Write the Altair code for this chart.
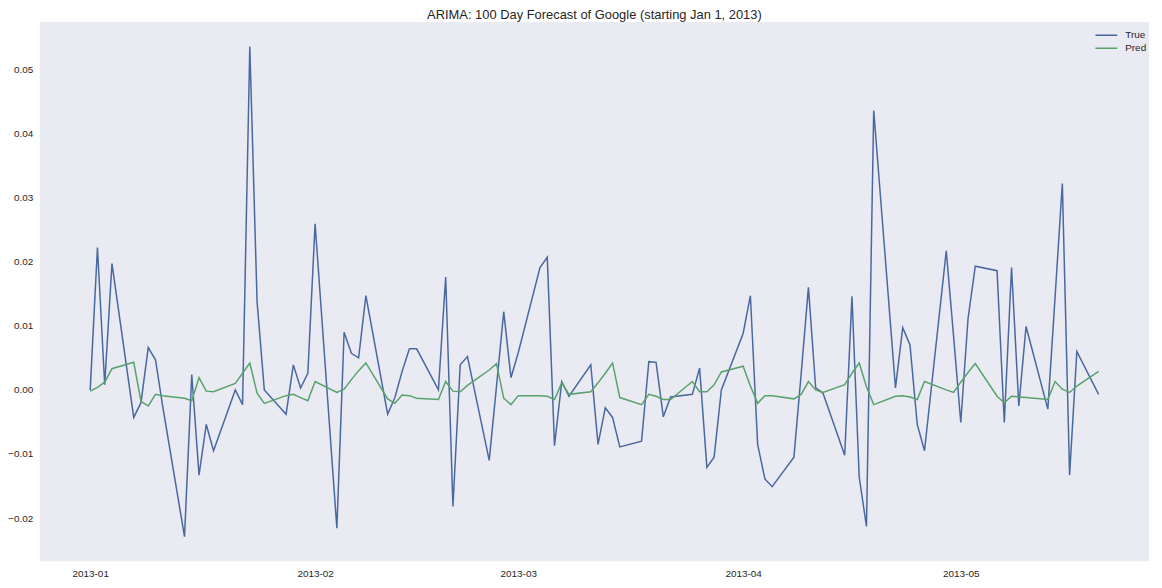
import altair as alt
import pandas as pd

# 100 weekdays starting Jan 1, 2013
dates = pd.bdate_range("2013-01-01", periods=100).strftime("%Y-%m-%d").tolist()

true_vals = [
    0.0000, 0.0222, 0.0008, 0.0197,
    -0.0043, -0.0020, 0.0066, 0.0047, -0.0026,
    -0.0229, 0.0024, -0.0133, -0.0054, -0.0095,
    0.0000, -0.0023, 0.0536, 0.0138, 0.0000,
    -0.0038, 0.0039, 0.0003, 0.0026, 0.0259,
    -0.0216, 0.0090, 0.0057, 0.0050, 0.0147,
    -0.0038, -0.0012, 0.0029, 0.0064, 0.0064,
    0.0000, 0.0176, -0.0182, 0.0039, 0.0052,
    -0.0110, 0.0005, 0.0122, 0.0019, 0.0058,
    0.0191, 0.0207, -0.0087, 0.0013, -0.0010,
    0.0039, -0.0085, -0.0028, -0.0043, -0.0089,
    -0.0080, 0.0044, 0.0043, -0.0042, -0.0011,
    -0.0007, 0.0034, -0.0121, -0.0105, 0.0000,
    0.0088, 0.0147, -0.0085, -0.0139, -0.0151,
    -0.0105, 0.0025, 0.0160, 0.0003, -0.0005,
    -0.0102, 0.0146, -0.0136, -0.0213, 0.0436,
    0.0003, 0.0097, 0.0070, -0.0054, -0.0095,
    0.0217, 0.0085, -0.0051, 0.0111, 0.0193,
    0.0186, -0.0051, 0.0191, -0.0025, 0.0099,
    -0.0030, 0.0145, 0.0322, -0.0133, 0.0060,
    -0.0007,
]

pred_vals = [
    -0.0002, 0.0004, 0.0012, 0.0033,
    0.0043, -0.0018, -0.0025, -0.0007, -0.0009,
    -0.0013, -0.0017, 0.0019, -0.0002, -0.0003,
    0.0010, 0.0026, 0.0042, -0.0005, -0.0021,
    -0.0009, -0.0007, -0.0012, -0.0017, 0.0013,
    -0.0004, 0.0001, 0.0016, 0.0030, 0.0042,
    -0.0014, -0.0021, -0.0008, -0.0009, -0.0013,
    -0.0015, 0.0013, -0.0002, -0.0003, 0.0007,
    0.0031, 0.0041, -0.0013, -0.0023, -0.0009,
    -0.0009, -0.0010, -0.0015, 0.0011, -0.0007,
    -0.0003, 0.0011, 0.0026, 0.0042, -0.0012,
    -0.0023, -0.0007, -0.0010, -0.0015, -0.0015,
    0.0013, -0.0003, -0.0003, 0.0008, 0.0028,
    0.0037, 0.0006, -0.0021, -0.0009, -0.0009,
    -0.0014, -0.0007, 0.0013, 0.0000, -0.0004,
    0.0008, 0.0026, 0.0042, 0.0005, -0.0023,
    -0.0010, -0.0009, -0.0011, -0.0015, 0.0013,
    0.0000, -0.0004, 0.0012, 0.0027, 0.0041,
    -0.0010, -0.0020, -0.0010, -0.0011, -0.0012,
    -0.0015, 0.0013, 0.0001, -0.0004, 0.0006,
    0.0029,
]

series_names = ["True", "Pred"]
series_colors = ["#4A68A0", "#58A26C"]
y_ticks = [-0.02, -0.01, 0.0, 0.01, 0.02, 0.03, 0.04, 0.05]
month_ticks = [(2013, 1), (2013, 2), (2013, 3), (2013, 4), (2013, 5)]

df = pd.DataFrame({
    "date": dates * 2,
    "value": true_vals + pred_vals,
    "series": ["True"] * len(true_vals) + ["Pred"] * len(pred_vals),
    "order": list(range(len(dates))) * 2,
})

# matplotlib-like 5% margins
all_vals = true_vals + pred_vals
vmin, vmax = min(all_vals), max(all_vals)
span = vmax - vmin
y_domain = [vmin - 0.05 * span, vmax + 0.05 * span]
x_domain = [
    alt.DateTime(year=2012, month=12, date=25, hours=1, minutes=12, utc=True),
    alt.DateTime(year=2013, month=5, date=26, hours=22, minutes=48, utc=True),
]

x_enc = alt.X(
    "date:T",
    scale=alt.Scale(type="utc", domain=x_domain, nice=False),
    axis=alt.Axis(
        values=[alt.DateTime(year=y, month=m, date=1, utc=True) for y, m in month_ticks],
        labelExpr="utcFormat(datum.value, '%Y-%m')",
        labelAngle=0, title=None, labelPadding=7,
    ),
)
y_enc = alt.Y(
    "value:Q",
    scale=alt.Scale(domain=y_domain, nice=False, zero=False),
    axis=alt.Axis(values=y_ticks, format=".2f", title=None, labelPadding=7),
)
color_enc = alt.Color(
    "series:N",
    scale=alt.Scale(domain=series_names, range=series_colors),
    legend=alt.Legend(
        title=None, orient="none", legendX=1062, legendY=7,
        symbolType="stroke", symbolSize=484, symbolStrokeWidth=1.5,
        clipHeight=13, rowPadding=0, labelOffset=7,
        labelFontSize=10, labelFont="Liberation Sans", labelColor="#262626",
    ),
)

base = alt.Chart(df)
true_line = base.transform_filter(alt.datum.series == "True").mark_line(strokeWidth=1.5).encode(
    x=x_enc, y=y_enc, color=color_enc, order="order:Q"
)
pred_line = base.transform_filter(alt.datum.series == "Pred").mark_line(strokeWidth=1.5).encode(
    x=x_enc, y=y_enc, color=color_enc, order="order:Q"
)

chart = (
    alt.layer(true_line, pred_line)
    .properties(
        width=1117,
        height=543,
        title=alt.TitleParams(
            "ARIMA: 100 Day Forecast of Google (starting Jan 1, 2013)",
            font="Liberation Sans", fontSize=13, fontWeight="normal",
            color="#262626", anchor="middle", offset=0,
        ),
        autosize=alt.AutoSizeParams(type="none"),
        padding={"left": 32, "top": 12, "right": 5, "bottom": 16},
    )
    .configure_view(fill="#EAEAF2", strokeWidth=0)
    .configure_axis(
        grid=False, domain=False, ticks=False,
        labelFont="Liberation Sans", labelFontSize=10, labelColor="#262626",
    )
)

chart.save("out.html", embed_options={"renderer": "svg", "actions": False})
